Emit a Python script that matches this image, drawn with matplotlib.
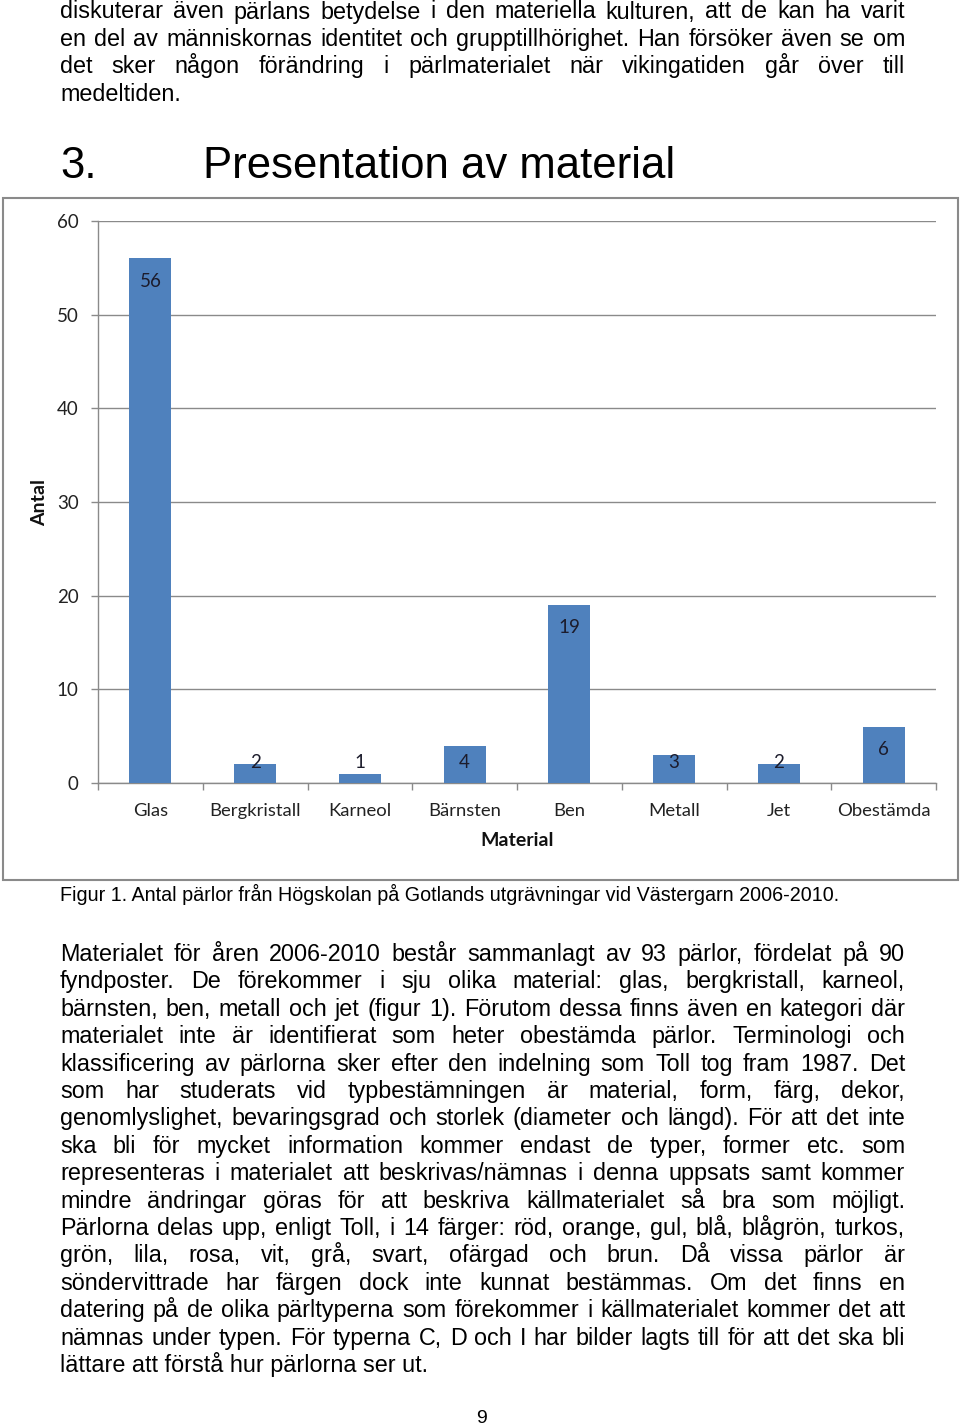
import matplotlib
matplotlib.use('Agg')
import matplotlib.pyplot as plt
from matplotlib.patches import Rectangle

# chart data
materials = ['Glas', 'Bergkristall', 'Karneol', 'Bärnsten', 'Ben', 'Metall', 'Jet', 'Obestämda']
antal = [56, 2, 1, 4, 19, 3, 2, 6]
yticks = [0, 10, 20, 30, 40, 50, 60]

# page text
para1 = [
    "diskuterar även pärlans betydelse i den materiella kulturen, att de kan ha varit",
    "en del av människornas identitet och grupptillhörighet. Han försöker även se om",
    "det sker någon förändring i pärlmaterialet när vikingatiden går över till",
    "medeltiden.",
]
heading_nr = "3."
heading = "Presentation av material"
caption = "Figur 1. Antal pärlor från Högskolan på Gotlands utgrävningar vid Västergarn 2006-2010."
para2 = [
    "Materialet för åren 2006-2010 består sammanlagt av 93 pärlor, fördelat på 90",
    "fyndposter. De förekommer i sju olika material: glas, bergkristall, karneol,",
    "bärnsten, ben, metall och jet (figur 1). Förutom dessa finns även en kategori där",
    "materialet inte är identifierat som heter obestämda pärlor. Terminologi och",
    "klassificering av pärlorna sker efter den indelning som Toll tog fram 1987. Det",
    "som har studerats vid typbestämningen är material, form, färg, dekor,",
    "genomlyslighet, bevaringsgrad och storlek (diameter och längd). För att det inte",
    "ska bli för mycket information kommer endast de typer, former etc. som",
    "representeras i materialet att beskrivas/nämnas i denna uppsats samt kommer",
    "mindre ändringar göras för att beskriva källmaterialet så bra som möjligt.",
    "Pärlorna delas upp, enligt Toll, i 14 färger: röd, orange, gul, blå, blågrön, turkos,",
    "grön, lila, rosa, vit, grå, svart, ofärgad och brun. Då vissa pärlor är",
    "söndervittrade har färgen dock inte kunnat bestämmas. Om det finns en",
    "datering på de olika pärltyperna som förekommer i källmaterialet kommer det att",
    "nämnas under typen. För typerna C, D och I har bilder lagts till för att det ska bli",
    "lättare att förstå hur pärlorna ser ut.",
]
page_nr = "9"

W, H = 960, 1427
fig = plt.figure(figsize=(W / 100, H / 100), dpi=100)
fig.patch.set_facecolor('white')


def fx(px):
    return px / W


def fy(py):
    return 1 - py / H


body_font = 'Liberation Sans'
chart_font = 'Lato'
body_size = 16.8
left, right = 60, 905
line_h = 27.4

renderer = fig.canvas.get_renderer()


def text_width(s, size):
    t = fig.text(0, 0, s, fontsize=size, family=body_font)
    w = t.get_window_extent(renderer).width
    t.remove()
    return w


def draw_paragraph(lines, first_base, size):
    for k, line in enumerate(lines):
        y = fy(first_base + k * line_h)
        if k == len(lines) - 1:
            fig.text(fx(left), y, line, fontsize=size, family=body_font, va='baseline')
            continue
        words = line.split(' ')
        widths = [text_width(w_, size) for w_ in words]
        gap = (right - left - sum(widths)) / (len(words) - 1)
        x = left
        for w_, wd in zip(words, widths):
            fig.text(fx(x), y, w_, fontsize=size, family=body_font, va='baseline')
            x += wd + gap


draw_paragraph(para1, 18.5, body_size)
fig.text(fx(60), fy(178), heading_nr, fontsize=31.5, family=body_font, va='baseline')
fig.text(fx(203), fy(178), heading, fontsize=31.5, family=body_font, va='baseline')
fig.text(fx(60), fy(901), caption, fontsize=14.2, family=body_font, va='baseline')
draw_paragraph(para2, 961, body_size)
fig.text(fx(481), fy(1423), page_nr, fontsize=14, family=body_font, va='baseline', ha='center')

# chart frame
fig.patches.append(Rectangle((fx(3), fy(880)), fx(955), (880 - 198) / H,
                             transform=fig.transFigure, fill=False,
                             edgecolor='#8a8a8a', linewidth=1.5))

ax = fig.add_axes([fx(98), fy(783), fx(936 - 98), (783 - 221) / H])
x = list(range(len(materials)))
ax.bar(x, antal, width=0.4, color='#4f81bd', zorder=3)
for i, v in zip(x, antal):
    ax.text(i, max(v - 2.45, 2.24), str(v), ha='center', va='center',
            fontsize=13.5, family=chart_font, color='#1c1c2c', zorder=4)

ax.set_xlim(-0.5, len(materials) - 0.5)
ax.set_ylim(0, 60)
ax.set_yticks(yticks)
ax.set_yticklabels([str(t) for t in yticks], family=chart_font, fontsize=13.5, color='#222222')
ax.set_xticks(x)
ax.set_xticklabels(materials, family=chart_font, fontsize=13.3, color='#222222')
ax.set_xticks([i - 0.5 for i in range(len(materials) + 1)], minor=True)
ax.tick_params(axis='x', which='major', length=0, pad=14.5)
ax.tick_params(axis='x', which='minor', length=5, color='#8a8a8a', width=1)
ax.tick_params(axis='y', length=5, color='#8a8a8a', width=1, pad=9)
ax.yaxis.grid(True, color='#8a8a8a', linewidth=1, zorder=0)
for s in ['top', 'right']:
    ax.spines[s].set_visible(False)
for s in ['left', 'bottom']:
    ax.spines[s].set_color('#8a8a8a')
    ax.spines[s].set_linewidth(1)

fig.text(fx(40), fy(502), 'Antal', rotation=90, ha='center', va='center',
         fontsize=14, fontweight='bold', family=chart_font, color='#111111')
fig.text(fx(517), fy(841), 'Material', ha='center', va='center',
         fontsize=14, fontweight='bold', family=chart_font, color='#111111')

fig.savefig('out.png', dpi=100)
